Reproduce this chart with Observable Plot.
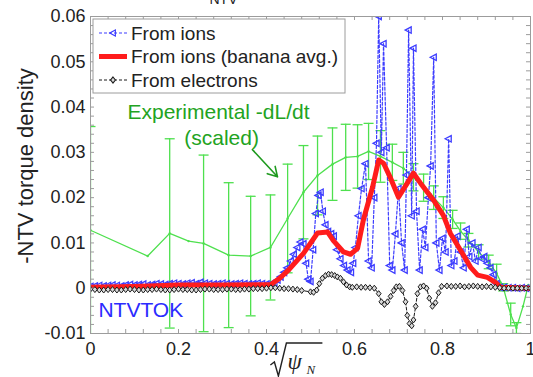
<!DOCTYPE html>
<html>
<head>
<meta charset="utf-8">
<script src="https://cdn.jsdelivr.net/npm/d3@7"></script>
<script src="https://cdn.jsdelivr.net/npm/@observablehq/plot@0.6"></script>
<style>
  body { margin: 0; background: #fff; }
  #chart { width: 533px; height: 377px; overflow: hidden; }
</style>
</head>
<body>
<div id="chart"></div>
<script>
// NTV torque density profiles versus sqrt(psi_N)

// From ions: [sqrt(psi_N), torque]
const ionTorque = [
  [0.00,0.0004],[0.01,0.0005],[0.02,0.0006],[0.03,0.0005],[0.04,0.0006],[0.05,0.0007],[0.06,0.0006],[0.07,0.0005],[0.08,0.0007],[0.09,0.0008],
  [0.10,0.0007],[0.11,0.0008],[0.12,0.0009],[0.13,0.0007],[0.14,0.0008],[0.15,0.0010],[0.16,0.0009],[0.17,0.0008],[0.18,0.0010],[0.19,0.0011],
  [0.20,0.0010],[0.21,0.0009],[0.22,0.0011],[0.23,0.0012],[0.24,0.0010],[0.25,0.0013],[0.26,0.0011],[0.27,0.0010],[0.28,0.0009],[0.29,0.0010],
  [0.30,0.0011],[0.31,0.0010],[0.32,0.0009],[0.33,0.0010],[0.34,0.0011],[0.35,0.0010],[0.36,0.0009],[0.37,0.0010],[0.38,0.0011],[0.39,0.0010],
  [0.40,0.0009],[0.410,0.0010],[0.418,0.0012],[0.425,0.0018],[0.432,0.0025],[0.440,0.0035],[0.447,0.0045],[0.455,0.0060],[0.462,0.0075],
  [0.470,0.0090],[0.477,0.0102],[0.484,0.0098],[0.490,0.0055],[0.495,0.0020],[0.500,0.0015],[0.506,0.0085],[0.512,0.0165],[0.518,0.0205],
  [0.523,0.0212],[0.528,0.0170],[0.534,0.0140],[0.540,0.0125],[0.547,0.0120],[0.553,0.0115],[0.560,0.0085],[0.568,0.0065],[0.576,0.0050],
  [0.584,0.0040],[0.592,0.0035],[0.597,0.0055],[0.602,0.0090],[0.609,0.0160],[0.616,0.0220],[0.625,0.0275],[0.632,0.0060],[0.639,0.0045],
  [0.645,0.0200],[0.650,0.0320],[0.655,0.0600],[0.661,0.0300],[0.666,0.0540],[0.673,0.0310],[0.680,0.0050],[0.686,0.0040],[0.693,0.0120],
  [0.700,0.0220],[0.707,0.0100],[0.714,0.0040],[0.718,0.0250],[0.723,0.0570],[0.730,0.0160],[0.734,0.0530],[0.741,0.0170],[0.748,0.0040],
  [0.755,0.0130],[0.761,0.0090],[0.768,0.0200],[0.773,0.0270],[0.780,0.0510],[0.786,0.0100],[0.793,0.0040],[0.800,0.0110],[0.807,0.0080],
  [0.814,0.0330],[0.820,0.0050],[0.827,0.0060],[0.834,0.0115],[0.841,0.0080],[0.848,0.0045],[0.855,0.0130],[0.861,0.0070],[0.868,0.0100],
  [0.875,0.0060],[0.882,0.0090],[0.889,0.0065],[0.895,0.0070],[0.902,0.0055],[0.909,0.0045],[0.916,0.0030],[0.923,0.0010],[0.930,0.0002],
  [0.94,0.0002],[0.95,0.0001],[0.96,0.0001],[0.97,0.0000],[0.98,0.0001],[0.99,0.0000],[1.00,0.0000]
];

// From ions, banana-orbit averaged
const bananaTorque = [
  [0.00,0.0002],[0.10,0.0004],[0.20,0.0007],[0.30,0.0007],[0.41,0.0008],[0.43,0.0022],[0.45,0.0040],
  [0.484,0.0077],[0.516,0.0122],[0.539,0.0124],[0.552,0.0105],[0.575,0.0080],[0.591,0.0075],[0.607,0.0088],
  [0.620,0.0150],[0.641,0.0223],[0.655,0.0283],[0.666,0.0276],[0.682,0.0243],[0.700,0.0201],[0.720,0.0232],
  [0.734,0.0254],[0.750,0.0232],[0.780,0.0194],[0.802,0.0161],[0.818,0.0121],[0.841,0.0084],[0.864,0.0046],
  [0.880,0.0029],[0.902,0.0024],[0.920,0.0013],[0.932,0.0002],[1.00,0.0000]
];

// From electrons
const electronTorque = [
  [0.00,-0.0002],[0.01,-0.0003],[0.02,-0.0004],[0.03,-0.0004],[0.04,-0.0003],[0.05,-0.0003],[0.06,-0.0004],[0.07,-0.0004],[0.08,-0.0003],[0.09,-0.0002],
  [0.10,-0.0003],[0.11,-0.0004],[0.12,-0.0004],[0.13,-0.0003],[0.14,-0.0003],[0.15,-0.0002],[0.16,-0.0003],[0.17,-0.0004],[0.18,-0.0004],[0.19,-0.0003],
  [0.20,-0.0002],[0.21,-0.0003],[0.22,-0.0003],[0.23,-0.0004],[0.24,-0.0004],[0.25,-0.0003],[0.26,-0.0002],[0.27,-0.0002],[0.28,-0.0003],[0.29,-0.0003],
  [0.30,-0.0003],[0.31,-0.0002],[0.32,-0.0002],[0.33,-0.0003],[0.34,-0.0003],[0.35,-0.0002],[0.36,-0.0002],[0.37,-0.0001],[0.38,-0.0001],[0.39,-0.0001],
  [0.40,0.0000],[0.41,0.0001],[0.42,0.0001],[0.43,0.0000],[0.44,-0.0001],[0.45,-0.0001],[0.46,-0.0002],[0.47,-0.0003],[0.48,-0.0005],
  [0.500,-0.0008],[0.507,-0.0009],[0.514,-0.0004],[0.520,0.0010],[0.527,0.0022],[0.534,0.0028],[0.541,0.0031],[0.548,0.0030],
  [0.555,0.0028],[0.561,0.0025],[0.568,0.0022],[0.575,0.0014],[0.582,0.0007],[0.589,0.0003],[0.595,0.0002],[0.605,0.0003],
  [0.615,0.0002],[0.625,0.0002],[0.635,0.0001],[0.645,0.0000],[0.655,-0.0012],[0.661,-0.0030],[0.668,-0.0036],[0.675,-0.0030],
  [0.682,-0.0018],[0.689,-0.0005],[0.695,0.0003],[0.702,0.0004],[0.709,-0.0005],[0.716,-0.0030],[0.720,-0.0060],[0.725,-0.0078],
  [0.730,-0.0083],[0.734,-0.0070],[0.739,-0.0040],[0.743,-0.0012],[0.750,0.0003],[0.757,0.0005],[0.764,0.0000],[0.770,-0.0022],
  [0.777,-0.0040],[0.784,-0.0032],[0.791,-0.0010],[0.798,0.0004],[0.81,0.0005],[0.82,0.0004],[0.83,0.0004],[0.84,0.0005],
  [0.85,0.0003],[0.86,0.0004],[0.87,0.0005],[0.88,0.0004],[0.89,0.0003],[0.90,0.0004],[0.91,0.0003],[0.92,0.0002],[0.93,0.0001],
  [0.94,0.0000],[0.95,0.0000],[0.96,0.0000],[0.97,0.0000],[0.98,0.0000],[0.99,0.0000],[1.00,0.0000]
];

// Experimental -dL/dt (scaled): [sqrt(psi_N), value, error half-width or null]
const experimental = [
  [0.000,0.0128,0.0229],[0.130,0.0071,null],[0.180,0.0121,0.0209],[0.223,0.0104,null],[0.257,0.0099,0.0195],
  [0.314,0.0073,0.0160],[0.364,0.0071,0.0132],[0.409,0.0090,0.0116],[0.448,0.0154,0.0120],[0.484,0.0212,0.0103],
  [0.516,0.0249,0.0087],[0.550,0.0274,0.0080],[0.580,0.0289,0.0073],[0.607,0.0291,0.0070],[0.632,0.0302,0.0062],
  [0.659,0.0291,0.0057],[0.686,0.0278,0.0040],[0.711,0.0265,0.0035],[0.734,0.0245,0.0030],[0.757,0.0222,0.0030],
  [0.780,0.0200,0.0026],[0.802,0.0178,0.0024],[0.823,0.0152,0.0020],[0.841,0.0126,0.0018],[0.859,0.0106,0.0015],
  [0.882,0.0080,0.0016],[0.905,0.0058,0.0015],[0.923,0.0033,0.0020],[0.938,0.0002,0.0008],[0.955,-0.0058,0.0025],
  [0.968,-0.0088,0.0012],[0.983,-0.0040,null],[0.995,0.0007,null]
];

const xTickValues = [0, 0.2, 0.4, 0.6, 0.8, 1];
const yTickValues = [-0.01, 0, 0.01, 0.02, 0.03, 0.04, 0.05, 0.06];
const legendLabels = ["From ions", "From ions (banana avg.)", "From electrons"];

const blue = "#3c3cff";
const red = "#ff1c1c";
const black = "#1a1a1a";
const green = "#4ee04e";
const greenText = "#22a322";
const frameGrey = "#9c9c9c";
const font = "'Liberation Sans', Arial, sans-serif";

// custom marker shapes
const leftTriangle = { draw(ctx, size) { const r = Math.sqrt(size / Math.PI); ctx.moveTo(-r * 1.1, 0); ctx.lineTo(r * 0.8, -r); ctx.lineTo(r * 0.8, r); ctx.closePath(); } };
const diamond = { draw(ctx, size) { const r = Math.sqrt(size / Math.PI); ctx.moveTo(0, -r); ctx.lineTo(r * 0.8, 0); ctx.lineTo(0, r); ctx.lineTo(-r * 0.8, 0); ctx.closePath(); } };
const cap = { draw(ctx, size) { const r = Math.sqrt(size / Math.PI); ctx.moveTo(-r, 0); ctx.lineTo(r, 0); } };

const fmt = d => String(Math.round(d * 100) / 100);
const withErr = experimental.filter(d => d[2] != null);
const X = d => d[0], Y = d => d[1];

const xMinor = d3.range(0, 1.0001, 0.04).map(v => +v.toFixed(2));
const yMinor = d3.range(-0.01, 0.06001, 0.002).map(v => +v.toFixed(3));
const W = 533, H = 377, mL = 90, mR = 3, mT = 16, mB = 44;
const fw = W - mL - mR, fh = H - mT - mB;

const plot = Plot.plot({
  width: W, height: H,
  marginLeft: mL, marginRight: mR, marginTop: mT, marginBottom: mB,
  style: { fontFamily: font, fontSize: "18px", color: "#222", background: "white" },
  x: { domain: [0, 1] },
  y: { domain: [-0.01, 0.06] },
  marks: [
    Plot.frame({ fill: "white" }),
    // experimental profile with error bars
    Plot.ruleX(withErr, { x: X, y1: d => d[1] - d[2], y2: d => d[1] + d[2], stroke: green, strokeWidth: 1.3, clip: true }),
    Plot.dot(withErr, { x: X, y: d => d[1] + d[2], symbol: cap, r: 5, stroke: green, strokeWidth: 1.3, clip: true }),
    Plot.dot(withErr, { x: X, y: d => d[1] - d[2], symbol: cap, r: 5, stroke: green, strokeWidth: 1.3, clip: true }),
    Plot.line(experimental, { x: X, y: Y, stroke: green, strokeWidth: 1.3, clip: true }),
    Plot.dot(experimental, { x: X, y: Y, r: 1.2, fill: green, clip: true }),
    // ions
    Plot.line(ionTorque, { x: X, y: Y, stroke: blue, strokeWidth: 1.2, strokeDasharray: "3,2", clip: true }),
    Plot.dot(ionTorque, { x: X, y: Y, symbol: leftTriangle, r: 3.2, stroke: blue, strokeWidth: 1.3, fill: "none", clip: true }),
    // banana average
    Plot.line(bananaTorque, { x: X, y: Y, stroke: red, strokeWidth: 5, strokeLinejoin: "round", clip: true }),
    // electrons
    Plot.line(electronTorque, { x: X, y: Y, stroke: black, strokeWidth: 1, strokeDasharray: "3,2", clip: true }),
    Plot.dot(electronTorque, { x: X, y: Y, symbol: diamond, r: 3, stroke: black, strokeWidth: 1, fill: "#d8d8d8", clip: true }),
    // box and inward ticks
    Plot.frame({ stroke: frameGrey }),
    Plot.tickX(xMinor, { x: d => d, insetTop: fh - 4, stroke: frameGrey }),
    Plot.tickX(xMinor, { x: d => d, insetBottom: fh - 4, stroke: frameGrey }),
    Plot.tickY(yMinor, { y: d => d, insetRight: fw - 4, stroke: frameGrey }),
    Plot.tickY(yMinor, { y: d => d, insetLeft: fw - 4, stroke: frameGrey }),
    Plot.axisX(xTickValues, { tickSize: 0, tickPadding: 9, tickFormat: fmt, label: null }),
    Plot.axisY(yTickValues, { tickSize: 0, tickPadding: 5, tickFormat: fmt, label: null }),
    // annotations
    Plot.text(["Experimental -dL/dt"], { x: 0.084, y: 0.0389, textAnchor: "start", fontSize: 21, fill: greenText }),
    Plot.text(["(scaled)"], { x: 0.298, y: 0.0331, fontSize: 21, fill: greenText }),
    Plot.arrow([[0.368, 0.0306, 0.425, 0.0246]], { x1: d => d[0], y1: d => d[1], x2: d => d[2], y2: d => d[3], stroke: "#1f9a1f", strokeWidth: 1.6, headLength: 10 }),
    Plot.text(["NTVTOK"], { x: 0.018, y: -0.0049, textAnchor: "start", fontSize: 21, fill: "#2b2bff" }),
    Plot.text(["-NTV torque density"], { frameAnchor: "left", textAnchor: "middle", dx: -65, dy: -9, rotate: -90, fontSize: 22, fill: "#222" }),
    Plot.text(["NTV"], { frameAnchor: "top", dx: -87, dy: -13, lineAnchor: "bottom", fontSize: 14, fill: "#222" })
  ]
});

// legend box in the upper-left corner of the axes
const svg = d3.select(plot);
const lg = svg.append("g").attr("font-family", font).attr("font-size", 19).attr("fill", "#222").attr("text-anchor", "start");
lg.append("rect").attr("x", mL + 3).attr("y", mT + 3).attr("width", 252).attr("height", 74)
  .attr("fill", "white").attr("stroke", frameGrey);
const rows = [
  { label: legendLabels[0], stroke: blue, width: 1.2, dash: "3,2", marker: leftTriangle, fill: "none" },
  { label: legendLabels[1], stroke: red, width: 5, dash: null, marker: null },
  { label: legendLabels[2], stroke: black, width: 1, dash: "3,2", marker: diamond, fill: "#d8d8d8" }
];
rows.forEach((r, i) => {
  const cy = mT + 17 + i * 23.5;
  lg.append("line").attr("x1", mL + 9).attr("x2", mL + 37).attr("y1", cy).attr("y2", cy)
    .attr("stroke", r.stroke).attr("stroke-width", r.width).attr("stroke-dasharray", r.dash);
  if (r.marker) {
    lg.append("path").attr("transform", `translate(${mL + 23},${cy})`)
      .attr("d", d3.symbol(r.marker, 3 * 3 * Math.PI)()).attr("fill", r.fill)
      .attr("stroke", r.stroke).attr("stroke-width", 1.1);
  }
  lg.append("text").attr("x", mL + 41).attr("y", cy).attr("dy", "0.35em").text(r.label);
});

// x-axis title: square root of psi_N
const xt = svg.append("g").attr("fill", "#222").attr("text-anchor", "start");
const bx = plot.scale("x").apply(0.41), by = H - mB;
xt.append("path")
  .attr("d", `M${bx},${by + 32} L${bx + 4},${by + 29} L${bx + 8},${by + 43} L${bx + 16},${by + 10} L${bx + 52},${by + 10}`)
  .attr("fill", "none").attr("stroke", "#222").attr("stroke-width", 1.4);
xt.append("text").attr("x", bx + 17).attr("y", by + 36).attr("font-family", "'Liberation Serif', serif")
  .attr("font-style", "italic").attr("font-size", 23).text("ψ");
xt.append("text").attr("x", bx + 36).attr("y", by + 41).attr("font-family", "'Liberation Serif', serif")
  .attr("font-style", "italic").attr("font-size", 13).text("N");

document.getElementById("chart").append(plot);
</script>
</body>
</html>
